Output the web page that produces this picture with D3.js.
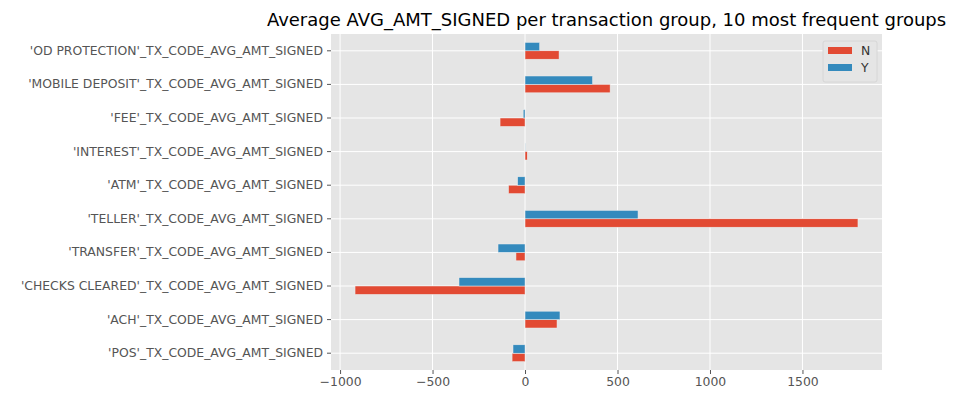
<!DOCTYPE html>
<html><head><meta charset="utf-8">
<script src="https://cdn.jsdelivr.net/npm/d3@7"></script>
<style>body{margin:0;background:#fff;} text{font-family:"DejaVu Sans",sans-serif;}</style>
</head><body><svg id="c" width="977" height="406"></svg>
<script>
const categories = ["'OD PROTECTION'_TX_CODE_AVG_AMT_SIGNED","'MOBILE DEPOSIT'_TX_CODE_AVG_AMT_SIGNED","'FEE'_TX_CODE_AVG_AMT_SIGNED","'INTEREST'_TX_CODE_AVG_AMT_SIGNED","'ATM'_TX_CODE_AVG_AMT_SIGNED","'TELLER'_TX_CODE_AVG_AMT_SIGNED","'TRANSFER'_TX_CODE_AVG_AMT_SIGNED","'CHECKS CLEARED'_TX_CODE_AVG_AMT_SIGNED","'ACH'_TX_CODE_AVG_AMT_SIGNED","'POS'_TX_CODE_AVG_AMT_SIGNED"];
const seriesN = [184, 460, -135, 12, -89, 1800, -49, -919, 173, -70];
const seriesY = [79, 365, -10, 1, -40, 611, -146, -357, 189, -65];
const seriesNames = ["N","Y"];
const xTicks = [-1000,-500,0,500,1000,1500];
const colors = ["#E24A33","#348ABD"];

const svg = d3.select("#c");
const m = {l:331, r:882, t:34, b:370};
const x = d3.scaleLinear().domain([-1049,1930]).range([m.l,m.r]);
const y = d3.scaleBand().domain(categories).range([m.t,m.b]).padding(0);
const bw = y.bandwidth();

svg.append("rect").attr("x",m.l).attr("y",m.t).attr("width",m.r-m.l).attr("height",m.b-m.t).attr("fill","#E5E5E5");
// grid
svg.append("g").selectAll("line").data(xTicks).join("line")
  .attr("x1",d=>x(d)).attr("x2",d=>x(d)).attr("y1",m.t).attr("y2",m.b)
  .attr("stroke","#fff").attr("stroke-width",1);
svg.append("g").selectAll("line").data(categories).join("line")
  .attr("y1",d=>y(d)+bw/2).attr("y2",d=>y(d)+bw/2).attr("x1",m.l).attr("x2",m.r)
  .attr("stroke","#fff").attr("stroke-width",1);

const barH = bw*0.25;
const data = [];
categories.forEach((c,i)=>{
  data.push({c, v:seriesN[i], s:0});
  data.push({c, v:seriesY[i], s:1});
});
svg.append("g").selectAll("rect").data(data).join("rect")
  .attr("x",d=>x(Math.min(0,d.v)))
  .attr("width",d=>Math.abs(x(d.v)-x(0)))
  .attr("y",d=> d.s===0 ? y(d.c)+bw/2 : y(d.c)+bw/2-barH)
  .attr("height",barH)
  .attr("fill",d=>colors[d.s])
  .attr("stroke","#EEEEEE").attr("stroke-width",0.5);

// axes
const xAxis = d3.axisBottom(x).tickValues(xTicks).tickSize(4).tickPadding(3)
  .tickFormat(d=> d<0 ? "\u2212"+Math.abs(d) : d);
const gx = svg.append("g").attr("transform",`translate(0,${m.b})`).call(xAxis);
gx.select(".domain").remove();
gx.selectAll("line").attr("stroke","#555");
gx.selectAll("text").attr("fill","#555").style("font-size","12.4px").style("font-family","DejaVu Sans");

const yAxis = d3.axisLeft(y).tickSize(4).tickPadding(4);
const gy = svg.append("g").attr("transform",`translate(${m.l},0)`).call(yAxis);
gy.select(".domain").remove();
gy.selectAll("line").attr("stroke","#555");
gy.selectAll("text").attr("fill","#555").style("font-size","12.4px").style("font-family","DejaVu Sans");

svg.append("text").attr("x",(m.l+m.r)/2).attr("y",26).attr("text-anchor","middle")
  .style("font-size","18px").attr("fill","#000")
  .text("Average AVG_AMT_SIGNED per transaction group, 10 most frequent groups");

// legend
const lg = svg.append("g");
lg.append("rect").attr("x",823).attr("y",41).attr("width",54).attr("height",41).attr("rx",2)
  .attr("fill","#E5E5E5").attr("stroke","#D6D6D6").attr("stroke-width",1);
seriesNames.forEach((s,i)=>{
  lg.append("rect").attr("x",828).attr("y",47+i*17).attr("width",24).attr("height",7).attr("fill",colors[i]);
  lg.append("text").attr("x",861).attr("y",55+i*17).style("font-size","12.4px").attr("fill","#333").text(s);
});
</script></body></html>
